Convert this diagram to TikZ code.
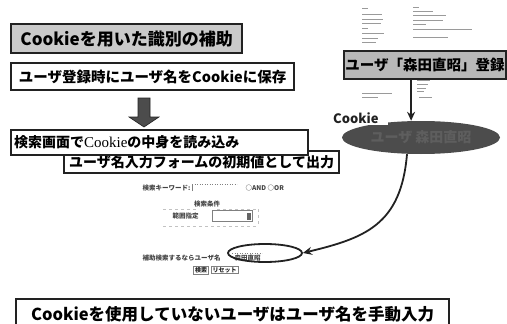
\documentclass[tikz,border=0pt]{standalone}
\usepackage{fontspec}
\newfontfamily\jp{Noto Sans CJK JP}
\newfontfamily\tms{Liberation Serif}
\usetikzlibrary{arrows.meta,shapes.geometric}
\definecolor{ink}{HTML}{222222}
\definecolor{shade}{HTML}{CACACA}
\definecolor{shadeb}{HTML}{B8B8B8}
\definecolor{dark}{HTML}{4C4C4C}
\definecolor{ghost}{HTML}{5E5E5E}
\definecolor{faint}{HTML}{9A9A9A}
\begin{document}
\begin{tikzpicture}[x=1pt,y=-1pt,
  box/.style={draw=ink, line width=2.2pt, fill=white, anchor=north west, inner sep=0pt},
  bigtxt/.style={font={\jp\bfseries\fontsize{17}{20}\selectfont}},
  midtxt/.style={font={\jp\bfseries\fontsize{14.5}{17}\selectfont}},
  formtxt/.style={font={\jp\bfseries\fontsize{6.5}{7}\selectfont}, text=ink!85, inner sep=0.5pt},
  btn/.style={draw=gray, line width=0.5pt, font={\jp\bfseries\fontsize{6}{7}\selectfont}, inner xsep=1.5pt, inner ysep=1pt, text=ink},
  arr/.style={line width=1.8pt, draw=ink, -{Stealth[length=9pt,width=8pt]}},
  clutter/.style={draw=faint, line width=0.9pt},
  fieldline/.style={draw=gray, line width=0.5pt}]
\useasboundingbox (0,0) rectangle (507,324);

% ---- left column boxes
\node[box, fill=shade, minimum width=231pt, minimum height=29pt, bigtxt] (title) at (10,23) {Cookieを用いた識別の補助};
\node[box, minimum width=283pt, minimum height=27pt, midtxt] (reg) at (10,62) {ユーザ登録時にユーザ名をCookieに保存};
\draw[fill=dark, draw=ink, line width=0.6pt] (138,98) -- (150,98) -- (150,117) -- (159,117) -- (144,127) -- (129,117) -- (138,117) -- cycle;
\node[box, minimum width=275pt, minimum height=22pt, font={\jp\bfseries\fontsize{14}{16}\selectfont}] (out) at (63,150) {ユーザ名入力フォームの初期値として出力};
\node[box, minimum width=297pt, minimum height=25pt, text width=291pt, align=left, inner xsep=3pt, font={\jp\bfseries\fontsize{14}{16}\selectfont}] (read) at (10,129) {検索画面で{\tms\mdseries\fontsize{15}{16}\selectfont Cookie}の中身を読み込み};
\node[box, minimum width=433pt, minimum height=30pt, font={\jp\bfseries\fontsize{16.5}{19}\selectfont}] (manual) at (15,298) {Cookieを使用していないユーザはユーザ名を手動入力};

% ---- form screenshot
\node[formtxt, anchor=west] (kw) at (142,188) {検索キーワード:};
\draw[fieldline] (192,191) -- (192,184);
\draw[fieldline, dotted] (192,184) -- (237,184);
\node[formtxt, anchor=west] (andor) at (245,188) {○AND ○OR};
\node[formtxt] (cond) at (207,204) {検索条件};
\draw[draw=faint!60, line width=0.4pt, dashed] (163,209) -- (197,209) (217,209) -- (258,209) (163,226) -- (258,226) (258,209) -- (258,226);
\node[formtxt, anchor=west] (range) at (172,216) {範囲指定};
\node[draw=gray, line width=0.5pt, minimum width=40pt, minimum height=11pt, anchor=west, inner sep=0pt] (dd) at (212,216) {};
\node[fill=ink!70, minimum width=4pt, minimum height=7pt, inner sep=0pt, anchor=east] (ddbtn) at ([xshift=-1.5pt]dd.east) {};
\node[formtxt, anchor=west] (aux) at (142,258) {補助検索するならユーザ名};
\node[formtxt, anchor=west] (name) at (234,258) {森田直昭};
\draw[fieldline, dotted] (232,253) -- (262,253);
\node[btn] (search) at (201,270) {検索};
\node[btn, anchor=west] (reset) at ([xshift=2pt]search.east) {リセット};
\node[draw=ink, line width=1.8pt, ellipse, minimum width=74pt, minimum height=18pt, inner sep=0pt] (fell) at (265,253) {};

% ---- right column
\foreach \xa/\xb/\yy in {362/368/8, 362/382/14, 362/383/19, 362/381/23, 362/368/28, 362/384/33, 362/378/38, 362/376/42,
                          413/419/7, 413/433/11, 413/446/15, 413/443/20, 413/426/24, 413/472/29, 413/448/37}
  \draw[clutter] (\xa,\yy) -- (\xb,\yy);
\node[box, fill=shadeb, minimum width=162pt, minimum height=28pt, font={\jp\bfseries\fontsize{14.5}{17}\selectfont}] (rbox) at (343,50) {ユーザ「森田直昭」登録};
\foreach \xa/\xb/\yy in {362/392/93, 362/378/97, 417/430/80, 417/428/84, 417/426/88, 417/424/91, 419/432/97}
  \draw[clutter] (\xa,\yy) -- (\xb,\yy);
\node[ellipse, fill=dark, minimum width=158pt, minimum height=33pt, inner sep=0pt, text=ghost, font={\jp\bfseries\fontsize{14}{16}\selectfont}] (cell) at (421,137.5) {ユーザ\ 森田直昭};
\node[fill=white, anchor=north west, text width=53pt, inner xsep=2pt, inner ysep=0pt, minimum height=15pt, font={\jp\bfseries\fontsize{13}{15}\selectfont}, text=ink] (cklabel) at (331,110) {Cookie};
\draw[arr] ([xshift=-14pt]rbox.south) -- ([xshift=-14pt]rbox.south |- cell.north);
\draw[arr] ([xshift=-14pt]cell.south) .. controls (401,225) and (365,238) .. (fell.east);
\end{tikzpicture}
\end{document}
